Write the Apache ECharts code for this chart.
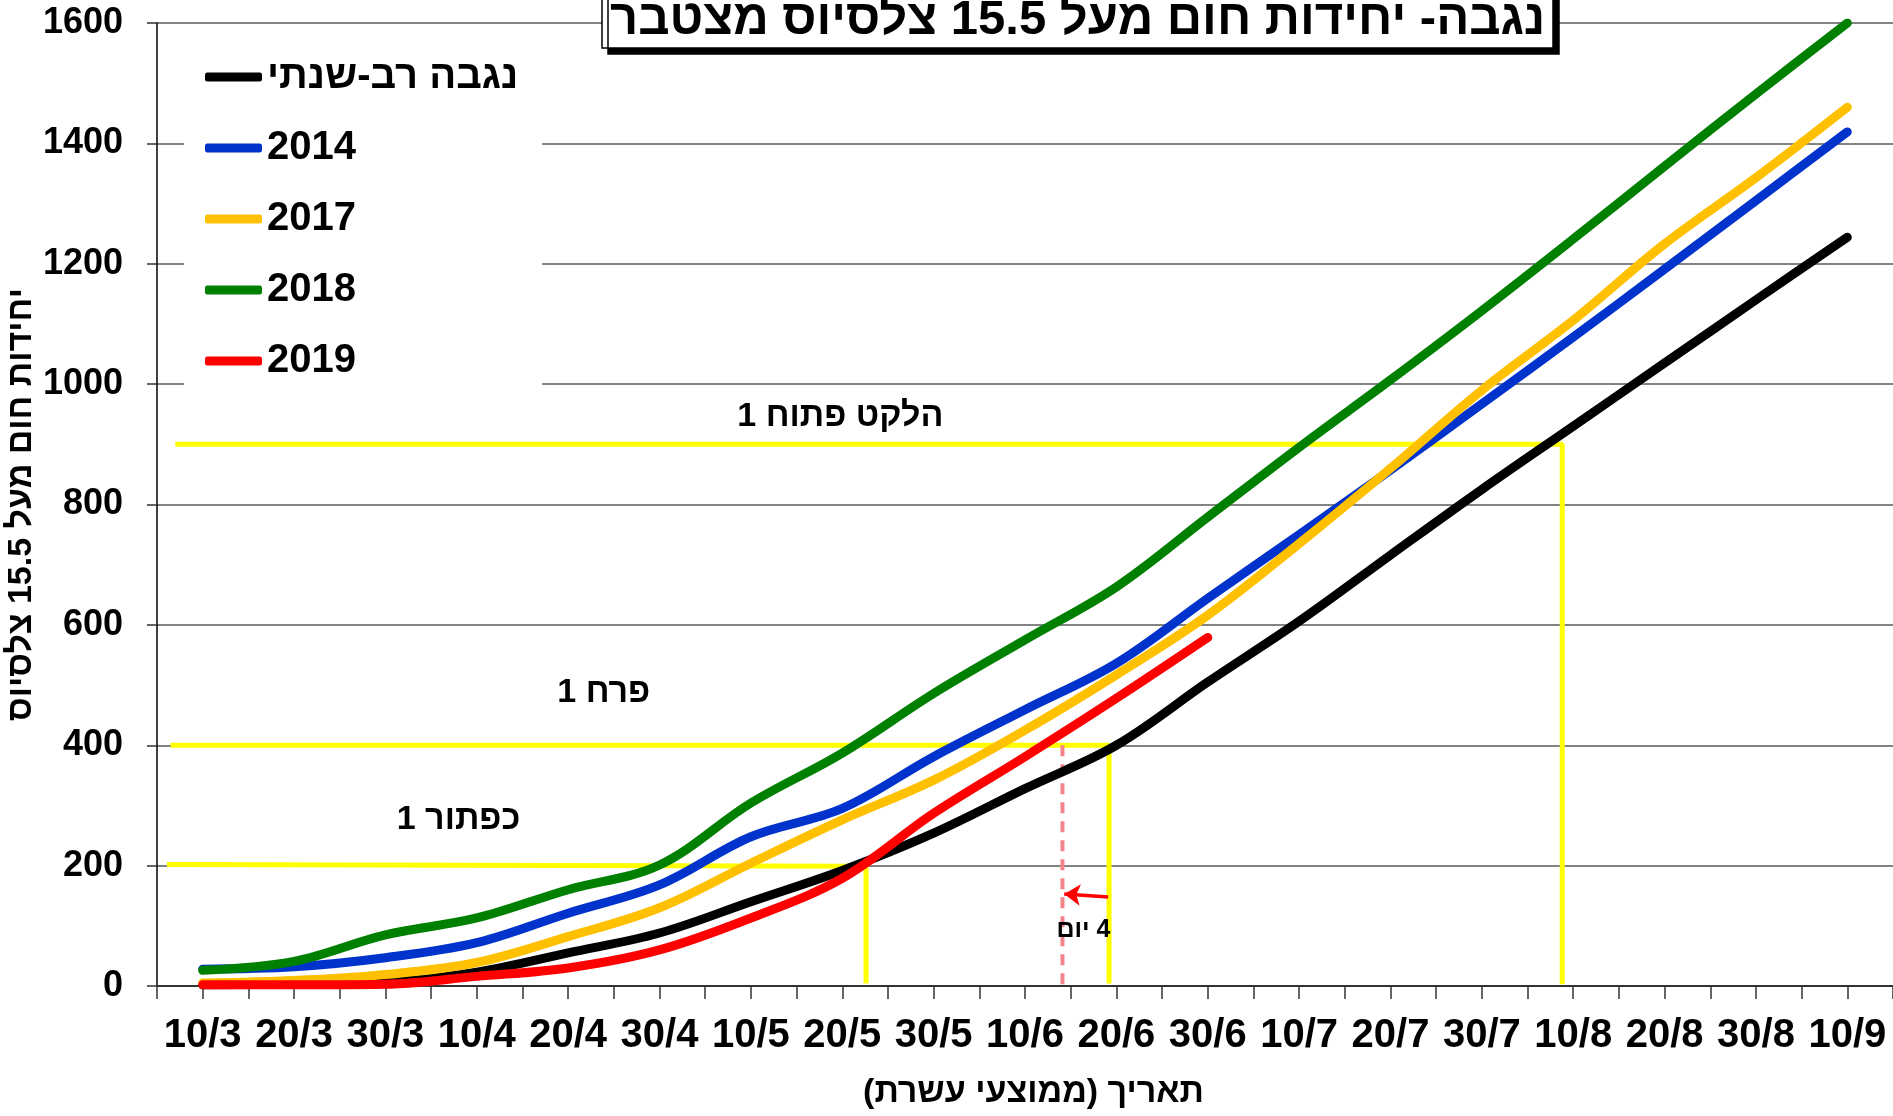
<!DOCTYPE html>
<html>
<head>
<meta charset="utf-8">
<script src="https://cdn.jsdelivr.net/npm/echarts@6/dist/echarts.min.js"></script>
<style>
html,body{margin:0;padding:0;background:#fff;}
#chart{width:1893px;height:1116px;}
</style>
</head>
<body>
<div id="chart"></div>
<script>
// ---- data ----
const xLabels = ['10/3','20/3','30/3','10/4','20/4','30/4','10/5','20/5','30/5','10/6','20/6','30/6','10/7','20/7','30/7','10/8','20/8','30/8','10/9'];
const seriesNames = ['נגבה רב-שנתי','2014','2017','2018','2019'];
const multiYear = [2,3,6,23,55,88,140,192,254,328,400,505,606,716,825,930,1035,1140,1244];
const y2014 = [28,32,47,72,121,168,248,295,381,459,536,644,750,857,967,1078,1191,1305,1419];
const y2017 = [5,9,19,39,82,130,204,276,342,425,517,616,735,860,990,1106,1233,1343,1460];
const y2018 = [26,41,85,113,160,201,304,387,486,575,663,779,895,1007,1122,1241,1362,1482,1600];
const y2019 = [2,2,3,16,30,60,113,179,287,381,478,579];
const yTicks = [0,200,400,600,800,1000,1200,1400,1600];

// annotation guides (x in decade index, y in heat units)
const guide900 = [[-0.30,900],[14.88,900],[14.88,3]];
const guide400 = [[-0.35,400],[9.92,400],[9.92,4]];
const guide200 = [[-0.39,202],[7.26,199],[7.26,4]];
const guideDash = [[9.41,400],[9.41,3]];
const arrowLine = [[9.91,148],[9.43,153]];
const notes = [[6.98,946,'הלקט פתוח 1'],[4.39,487,'פרח 1'],[2.80,276,'כפתור 1']];
const smallNotes = [[9.64,93,'\u200F4 יום']];

const titleText = 'נגבה- יחידות חום מעל 15.5 צלסיוס מצטבר';
const yName = 'יחידות חום מעל 15.5 צלסיוס';
const xName = '\u200Fתאריך (ממוצעי עשרת)\u200F';

const FONT = '"Liberation Sans", Arimo, Arial, "DejaVu Sans", sans-serif';
const colors = ['#000000','#0033CC','#FFC000','#008000','#FF0000'];
const allData = [multiYear, y2014, y2017, y2018, y2019];

const chart = echarts.init(document.getElementById('chart'));

const mainSeries = allData.map((arr, k) => ({
  name: seriesNames[k],
  type: 'line',
  data: arr.map((v, i) => [i, v]),
  smooth: 0.35,
  symbol: 'none',
  z: 5 + k,
  lineStyle: {color: colors[k], width: 9, cap: 'round', join: 'round'},
  itemStyle: {color: colors[k]}
}));

const guideStyle = {color: '#FFFF00', width: 5};
const guideSeries = [guide900, guide400, guide200].map(g => ({
  type: 'line', data: g, symbol: 'none', z: 3, silent: true,
  lineStyle: guideStyle
}));

const option = {
  backgroundColor: '#fff',
  animation: false,
  title: {
    text: titleText,
    left: 602, top: -12,
    backgroundColor: '#fff',
    borderColor: '#000', borderWidth: 1.5,
    padding: [4, 8, 0, 8],
    shadowColor: '#000', shadowOffsetX: 6, shadowOffsetY: 6, shadowBlur: 0,
    textStyle: {fontFamily: FONT, fontSize: 49, fontWeight: 'bold', color: '#000', lineHeight: 56}
  },
  legend: {
    data: seriesNames,
    orient: 'vertical',
    left: 184, top: 30,
    padding: [27, 24, 14, 21],
    backgroundColor: '#fff',
    itemGap: 31,
    itemWidth: 57, itemHeight: 9,
    icon: 'roundRect',
    textStyle: {fontFamily: FONT, fontSize: 40, fontWeight: 'bold', color: '#000'}
  },
  grid: {left: 157, right: 0, top: 23, bottom: 130, containLabel: false, outerBoundsMode: 'none'},
  xAxis: {
    type: 'value', min: -0.5, max: 18.5, interval: 0.5,
    name: xName, nameLocation: 'middle', nameGap: 90,
    nameTextStyle: {fontFamily: FONT, fontSize: 34, fontWeight: 'bold', color: '#000', padding: [0, 0, 0, 17]},
    axisLine: {show: true, onZero: false, lineStyle: {color: '#333', width: 2}},
    axisTick: {show: true, length: 13, lineStyle: {color: '#333', width: 1.5}},
    splitLine: {show: false},
    axisLabel: {
      fontFamily: FONT, fontSize: 40, fontWeight: 'bold', color: '#000', margin: 30,
      formatter: v => (Math.abs(v - Math.round(v)) < 1e-6 && v >= 0 && v <= 18) ? xLabels[Math.round(v)] : ''
    }
  },
  yAxis: {
    type: 'value', min: yTicks[0], max: yTicks[yTicks.length - 1], interval: 200,
    name: yName, nameLocation: 'middle', nameRotate: 90, nameGap: 118, nameMoveOverlap: false,
    nameTextStyle: {fontFamily: FONT, fontSize: 34, fontWeight: 'bold', color: '#000'},
    axisLine: {show: true, onZero: false, lineStyle: {color: '#000', width: 1.5}},
    axisTick: {show: true, length: 10, lineStyle: {color: '#333', width: 1.5}},
    splitLine: {show: true, lineStyle: {color: '#5a5a5a', width: 1.5}},
    axisLabel: {fontFamily: FONT, fontSize: 36, fontWeight: 'bold', color: '#000', margin: 34,
      formatter: v => String(v)}
  },
  series: [
    ...guideSeries,
    {
      type: 'line', data: guideDash, symbol: 'none', z: 3, silent: true,
      lineStyle: {color: '#F2858A', width: 4, type: [11, 8]}
    },
    {
      type: 'lines', coordinateSystem: 'cartesian2d', z: 4, silent: true,
      symbol: ['none', 'arrow'], symbolSize: 16,
      lineStyle: {color: '#FF0000', width: 3.5, opacity: 1},
      data: [{coords: arrowLine}]
    },
    ...mainSeries,
    {
      type: 'scatter', data: notes, symbolSize: 1, z: 10, silent: true,
      itemStyle: {color: 'rgba(0,0,0,0)', opacity: 1},
      label: {show: true, position: 'inside', formatter: p => p.data[2],
        fontFamily: FONT, fontSize: 34, fontWeight: 'bold', color: '#000', opacity: 1}
    },
    {
      type: 'scatter', data: smallNotes, symbolSize: 1, z: 10, silent: true,
      itemStyle: {color: 'rgba(0,0,0,0)', opacity: 1},
      label: {show: true, position: 'inside', formatter: p => p.data[2],
        fontFamily: FONT, fontSize: 25, fontWeight: 'bold', color: '#000', opacity: 1}
    }
  ]
};
chart.setOption(option);
</script>
</body>
</html>
